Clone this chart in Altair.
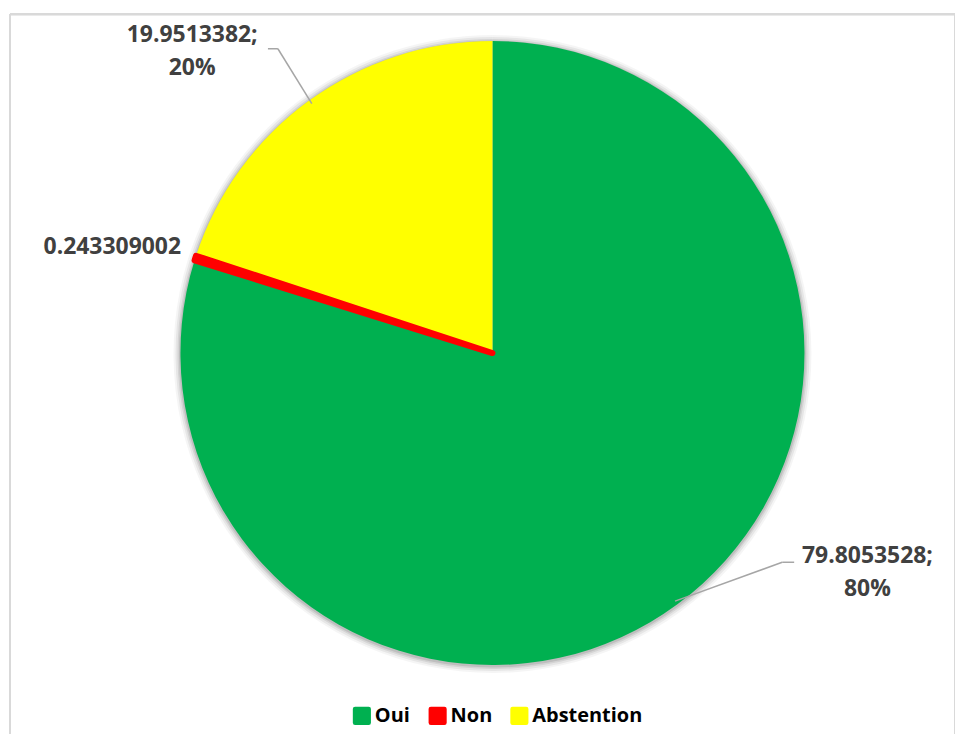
import altair as alt
import pandas as pd

# ---- data ----
categories = ["Oui", "Non", "Abstention"]
values = [79.8053528, 0.243309002, 19.9513382]
value_labels = ["79.8053528", "0.243309002", "19.9513382"]
slice_order = [0, 1, 2]
colors = ["#00B050", "#FF0000", "#FFFF00"]

df = pd.DataFrame({
    "category": categories,
    "value": values,
    "vlabel": value_labels,
    "order": slice_order,
})

# ---- layout constants ----
W, H = 948, 722
CX, CY, R = 484, 340, 313
FONT = "Open Sans"
LABEL_COLOR = "#404040"
LEADER_COLOR = "#A6A6A6"

base = (
    alt.Chart(df)
    .transform_stack(stack="value", groupby=[], as_=["v0", "v1"],
                     sort=[alt.SortField("order", order="ascending")])
    .transform_joinaggregate(total="sum(value)")
    .transform_calculate(a0="2*PI*datum.v0/datum.total")
    .transform_calculate(a1="2*PI*datum.v1/datum.total")
    .transform_calculate(amid="(datum.a0+datum.a1)/2")
    .transform_calculate(pct="format(datum.value/datum.total, '.0%')")
    .transform_calculate(ex=f"{CX} + {R - 4}*sin(datum.amid)")
    .transform_calculate(ey=f"{CY} - {R - 4}*cos(datum.amid)")
)

theta_enc = dict(
    theta=alt.Theta("a0:Q", scale=None),
    theta2="a1:Q",
)

shadows = [
    base.mark_arc(outerRadius=R + rr, color="#000000", opacity=op).encode(
        x=alt.value(CX), y=alt.value(CY + 1), **theta_enc)
    for rr, op in [(7, 0.04), (5, 0.06), (3, 0.08), (1.5, 0.1)]
]

symbol_path = ("M -0.75 -1 L 0.75 -1 Q 1 -1 1 -0.75 L 1 0.75 Q 1 1 0.75 1 "
               "L -0.75 1 Q -1 1 -1 0.75 L -1 -0.75 Q -1 -1 -0.75 -1 Z")

pie = base.mark_arc(outerRadius=R).encode(
    x=alt.value(CX), y=alt.value(CY),
    color=alt.Color(
        "category:N",
        scale=alt.Scale(domain=categories, range=colors),
        legend=alt.Legend(
            orient="none", legendX=343, legendY=694, direction="horizontal",
            title=None, symbolType=symbol_path, symbolSize=330,
            symbolStrokeWidth=0, symbolOpacity=1,
            labelFont=FONT, labelFontWeight="bold", labelFontSize=20,
            labelColor="#000000", labelOffset=3, columnPadding=17, padding=0,
        ),
    ),
    **theta_enc,
)

non_outline = base.transform_filter("datum.category == 'Non'").mark_arc(
    outerRadius=R, color="#FF0000", stroke="#FF0000", strokeWidth=6,
    strokeJoin="round",
).encode(x=alt.value(CX), y=alt.value(CY), **theta_enc)

# leader lines: (category, elbow dx, elbow dy, end dx)
leaders = [("Oui", 107.5, -39, 12), ("Abstention", -34, -55, -10)]
leader_layers = []
for cat, edx, edy, hdx in leaders:
    b = base.transform_filter(f"datum.category == '{cat}'").transform_calculate(
        bx=f"datum.ex + ({edx})", by=f"datum.ey + ({edy})"
    ).transform_calculate(hx=f"datum.bx + ({hdx})")
    seg1 = b.mark_rule(color=LEADER_COLOR, strokeWidth=1.5).encode(
        x=alt.X("ex:Q", scale=None, axis=None), y=alt.Y("ey:Q", scale=None, axis=None),
        x2="bx:Q", y2="by:Q")
    seg2 = b.mark_rule(color=LEADER_COLOR, strokeWidth=1.5).encode(
        x=alt.X("bx:Q", scale=None, axis=None), y=alt.Y("by:Q", scale=None, axis=None),
        x2="hx:Q", y2="by:Q")
    leader_layers += [seg1, seg2]

# data labels: (category, dx, dy of first line from edge point)
text_layers = []
for cat, tdx, tdy in [("Oui", 193, -45), ("Abstention", -120, -69)]:
    t = base.transform_filter(f"datum.category == '{cat}'").transform_calculate(
        tx=f"datum.ex + ({tdx})", ty=f"datum.ey + ({tdy})",
        txt="datum.vlabel + ';\\n' + datum.pct",
    ).mark_text(font=FONT, fontWeight="bold", fontSize=23, color=LABEL_COLOR,
                align="center", baseline="middle", lineBreak="\n", lineHeight=33
    ).encode(x=alt.X("tx:Q", scale=None, axis=None), y=alt.Y("ty:Q", scale=None, axis=None),
             text="txt:N")
    text_layers.append(t)

non_text = base.transform_filter("datum.category == 'Non'").transform_calculate(
    tx=f"{CX} + {R + 15}*sin(datum.amid)", ty=f"{CY} - {R + 15}*cos(datum.amid) - 6",
).mark_text(font=FONT, fontWeight="bold", fontSize=23, color=LABEL_COLOR,
            align="right", baseline="middle"
).encode(x=alt.X("tx:Q", scale=None, axis=None), y=alt.Y("ty:Q", scale=None, axis=None),
         text="vlabel:N")

# frame (top, left, right borders of the chart area)
frame_top = alt.Chart(df).mark_rule(color="#D9D9D9", strokeWidth=2).encode(
    x=alt.value(0), x2=alt.value(W), y=alt.value(0))
frame_left = alt.Chart(df).mark_rule(color="#D9D9D9", strokeWidth=2).encode(
    x=alt.value(0), y=alt.value(0), y2=alt.value(H))
frame_right = alt.Chart(df).mark_rule(color="#D9D9D9", strokeWidth=2).encode(
    x=alt.value(W), y=alt.value(0), y2=alt.value(H))

chart = alt.layer(
    frame_top, frame_left, frame_right,
    *shadows, pie, non_outline,
    *leader_layers, *text_layers, non_text,
).properties(
    width=W, height=H,
    padding={"left": 2, "top": 5, "right": 0, "bottom": 0},
    autosize=alt.AutoSizeParams(type="none"),
    background="#FFFFFF",
).configure_view(stroke=None)

chart.save("out.html", embed_options={"renderer": "svg", "actions": False})
